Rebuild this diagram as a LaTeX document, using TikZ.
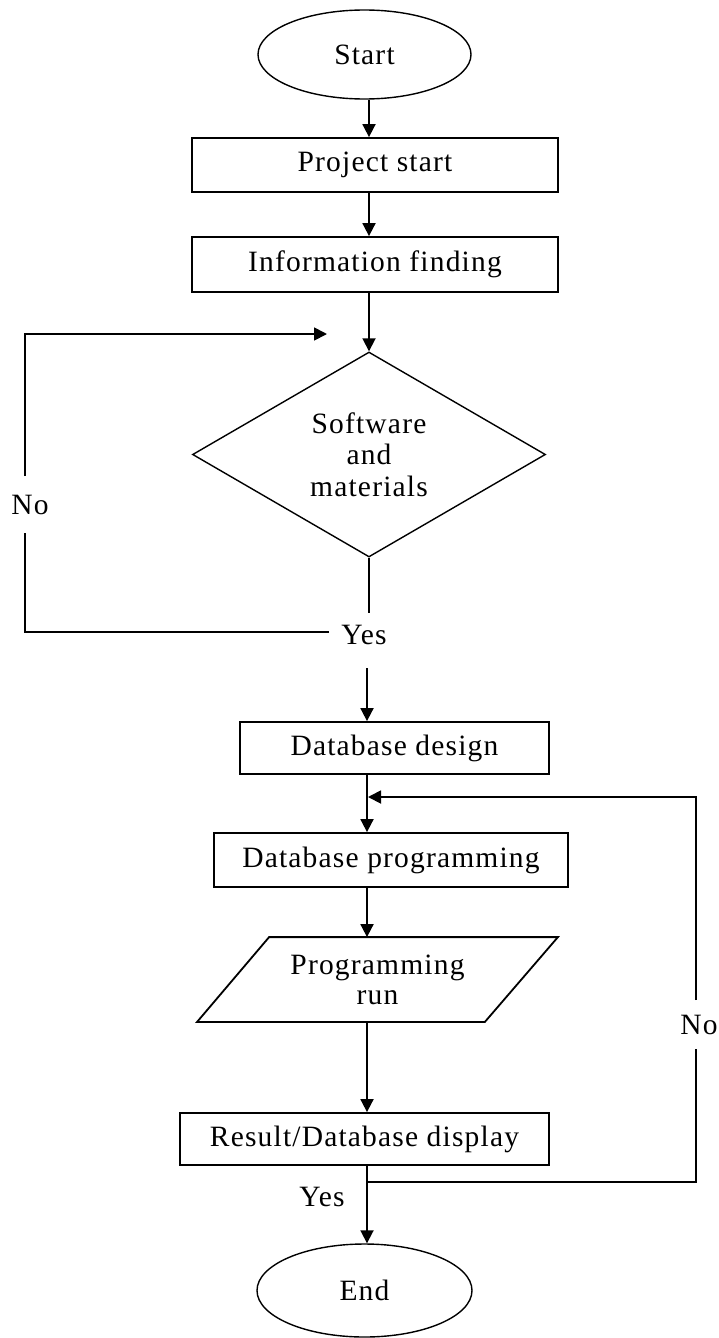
\documentclass[tikz,border=0pt]{standalone}
\usepackage{fontspec}
\setmainfont{Liberation Serif}[LetterSpace=4]
\usetikzlibrary{shapes.geometric,arrows.meta}
\begin{document}
\begin{tikzpicture}[x=1pt,y=-1pt,
  font=\fontsize{29.5}{31.5}\selectfont,
  line width=1.8pt,
  box/.style={draw, rectangle, inner sep=0pt},
  term/.style={draw, ellipse, inner sep=0pt, line width=1.4pt},
  arr/.style={-{Triangle[length=13pt,width=13pt]}},
  lbl/.style={inner sep=0pt}]
\useasboundingbox (0,0) rectangle (719,1338);
% axes
\coordinate (ax1) at (369,0);
\coordinate (ax2) at (367,0);
% nodes
\node[term, minimum width=213pt, minimum height=89pt] (start) at (364.5,54.5) {Start};
\node[box, minimum width=366pt, minimum height=54pt] (ps) at (375,165) {Project start};
\node[box, minimum width=366pt, minimum height=55pt] (inf) at (375,264.5) {Information finding};
\node[diamond, draw, line width=1.4pt, aspect=1.72, minimum width=353pt, minimum height=205pt, inner sep=0pt, align=center] (dec) at (369,454.5) {Software\\and\\materials};
\node[box, minimum width=309pt, minimum height=52pt] (dbd) at (394.5,748) {Database design};
\node[box, minimum width=354pt, minimum height=54pt] (dbp) at (391,860) {Database programming};
\node[minimum width=359pt, minimum height=83pt, inner sep=0pt, align=center, font=\fontsize{29.5}{30}\selectfont] (run) at (377.5,979.5) {Programming\\run};
\draw ([xshift=72pt]run.north west) -- (run.north east) -- ([xshift=-73pt]run.south east) -- (run.south west) -- cycle;
\node[box, minimum width=369pt, minimum height=52pt] (res) at (364.5,1139) {Result/Database display};
\node[term, minimum width=215pt, minimum height=93pt] (end) at (364.5,1290.5) {End};
% labels
\node[lbl, minimum height=55pt] (no1) at (30,504.5) {No};
\node[lbl] (yes1) at (364,635) {Yes};
\node[lbl, minimum height=47pt] (no2) at (699,1024.5) {No};
\node[lbl] (yes2) at (322,1197) {Yes};
% bend coordinates
\coordinate (d1) at (369,613);
\coordinate (d2) at (367,668);
\coordinate (c1) at (329,632);
\coordinate (c2) at (25,632);
\coordinate (c3) at (25,334);
\coordinate (c4) at (327,334);
\coordinate (e1) at (367,1182);
\coordinate (e2) at (696,1182);
\coordinate (e3) at (696,797);
\coordinate (e4) at (368,797);
% connectors
\draw[arr] (start.south -| ax1) -- (ps.north -| ax1);
\draw[arr] (ps.south -| ax1) -- (inf.north -| ax1);
\draw[arr] (inf.south -| ax1) -- (dec.north);
\draw (dec.south) -- (d1);
\draw[arr] (d2) -- (dbd.north -| d2);
\draw (c1) -- (c2) -- (c2 |- no1.south);
\draw[arr] (c3 |- no1.north) -- (c3) -- (c4);
\draw[arr] (dbd.south -| ax2) -- (dbp.north -| ax2);
\draw[arr] (dbp.south -| ax2) -- (run.north -| ax2);
\draw[arr] (run.south -| ax2) -- (res.north -| ax2);
\draw[arr] (res.south -| ax2) -- (end.north -| ax2);
\draw (e1) -- (e2) -- (e2 |- no2.south);
\draw[arr] (e3 |- no2.north) -- (e3) -- (e4);
\end{tikzpicture}
\end{document}
